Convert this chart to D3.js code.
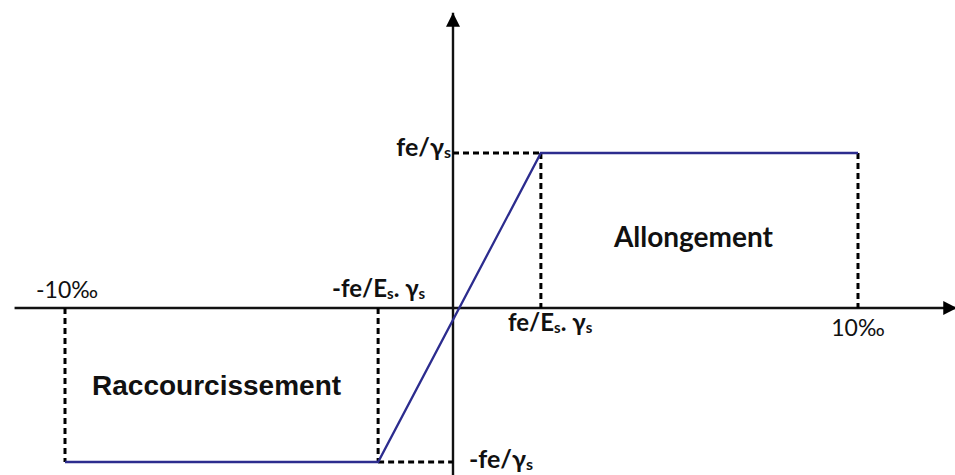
<!DOCTYPE html>
<html><head><meta charset="utf-8">
<script src="https://cdn.jsdelivr.net/npm/d3@7"></script>
<style>
html,body{margin:0;padding:0;background:#fff;}
svg{display:block;}
</style></head>
<body><svg id="c" width="955" height="475"></svg>
<script>
// strain in ‰, stress normalised by fe/γs
const strain = [-10, -1.93, 2.17, 10];
const stress = [-1, -1, 1, 1];
const xLimits = [-11.3, 12.45];
const yLimits = [-1.09, 1.905];
const zoneLabels = ["Raccourcissement", "Allongement"];

const svg = d3.select("#c");
const x = d3.scaleLinear().domain([-10, 0, 10]).range([65, 453, 858]);
const y = d3.scaleLinear().domain([-1, 0, 1]).range([462, 308, 153]);

const defs = svg.append("defs");
defs.append("marker").attr("id","arr").attr("viewBox","0 0 10 10")
  .attr("refX",10).attr("refY",5).attr("markerUnits","userSpaceOnUse")
  .attr("markerWidth",15).attr("markerHeight",14).attr("orient","auto")
  .append("path").attr("d","M0,0 L10,5 L0,10 Z").attr("fill","#000");

// axes
svg.append("line").attr("x1",x(xLimits[0])).attr("x2",x(xLimits[1]))
  .attr("y1",y(0)).attr("y2",y(0)).attr("stroke","#111").attr("stroke-width",2.4)
  .attr("marker-end","url(#arr)");
svg.append("line").attr("x1",x(0)).attr("x2",x(0))
  .attr("y1",y(yLimits[0])).attr("y2",y(yLimits[1])).attr("stroke","#111").attr("stroke-width",2.4)
  .attr("marker-end","url(#arr)");

// dashed guides
const dash = svg.append("g").attr("stroke","#000").attr("stroke-width",3)
  .attr("stroke-dasharray","6,4").attr("fill","none");
const guides = [
  [[strain[0],0],[strain[0],stress[0]]],
  [[strain[1],0],[strain[1],stress[1]]],
  [[strain[2],stress[2]],[strain[2],0]],
  [[strain[3],stress[3]],[strain[3],0]],
  [[0,stress[2]],[strain[2],stress[2]]],
  [[strain[1],stress[1]],[0,stress[1]]]
];
guides.forEach(g=>{
  dash.append("line").attr("x1",x(g[0][0])).attr("y1",y(g[0][1]))
    .attr("x2",x(g[1][0])).attr("y2",y(g[1][1]));
});

// law
const line = d3.line().x((d,i)=>x(strain[i])).y((d,i)=>y(stress[i]));
svg.append("path").datum(strain).attr("d",line).attr("fill","none")
  .attr("stroke","#2c2c8e").attr("stroke-width",2.3);

const calib = "Lato, 'Open Sans', sans-serif";

// fe/γs (top)
const t1 = svg.append("text").attr("x",x(0)-2).attr("y",y(1)+3)
  .attr("font-family",calib).attr("font-size",25).attr("font-weight",700).attr("fill","#111")
  .attr("text-anchor","end");
t1.append("tspan").text("fe/γ");
t1.append("tspan").attr("font-size",16).attr("dy",2).text("s");

// -fe/γs (bottom)
const t2 = svg.append("text").attr("x",x(0)+16).attr("y",y(-1)+6)
  .attr("font-family",calib).attr("font-size",25).attr("font-weight",700).attr("fill","#111");
t2.append("tspan").text("-fe/γ");
t2.append("tspan").attr("font-size",16).attr("dy",2).text("s");

// fe/Es. γs
function feEs(prefix, px, py){
  const t = svg.append("text").attr("x",px).attr("y",py)
    .attr("font-family",calib).attr("font-size",24).attr("font-weight",700).attr("fill","#111");
  t.append("tspan").text(prefix+"fe/E");
  t.append("tspan").attr("font-size",15).attr("dy",2).text("s");
  t.append("tspan").attr("dy",-2).text(". γ");
  t.append("tspan").attr("font-size",15).attr("dy",2).text("s");
}
feEs("", x(0)+55, y(0)+23);
feEs("-", x(0)-121, y(0)-11);

// ‰ ticks
svg.append("text").attr("x",x(-10)+2).attr("y",y(0)-10).attr("text-anchor","middle")
  .attr("font-family",calib).attr("font-size",23).attr("fill","#111").text("-10‰");
svg.append("text").attr("x",x(10)).attr("y",y(0)+28).attr("text-anchor","middle")
  .attr("font-family",calib).attr("font-size",23).attr("fill","#111").text("10‰");

// zone names
svg.append("text").attr("x",(x(strain[2])+x(strain[3]))/2-6).attr("y",247)
  .attr("text-anchor","middle").attr("font-family",calib).attr("font-size",28)
  .attr("font-weight",700).attr("fill","#111").text(zoneLabels[1]);
svg.append("text").attr("x",(x(strain[0])+x(strain[1]))/2-5).attr("y",395)
  .attr("text-anchor","middle").attr("font-family","'Liberation Sans', Arial, sans-serif").attr("font-size",28)
  .attr("font-weight",700).attr("fill","#111").text(zoneLabels[0]);
</script></body></html>
